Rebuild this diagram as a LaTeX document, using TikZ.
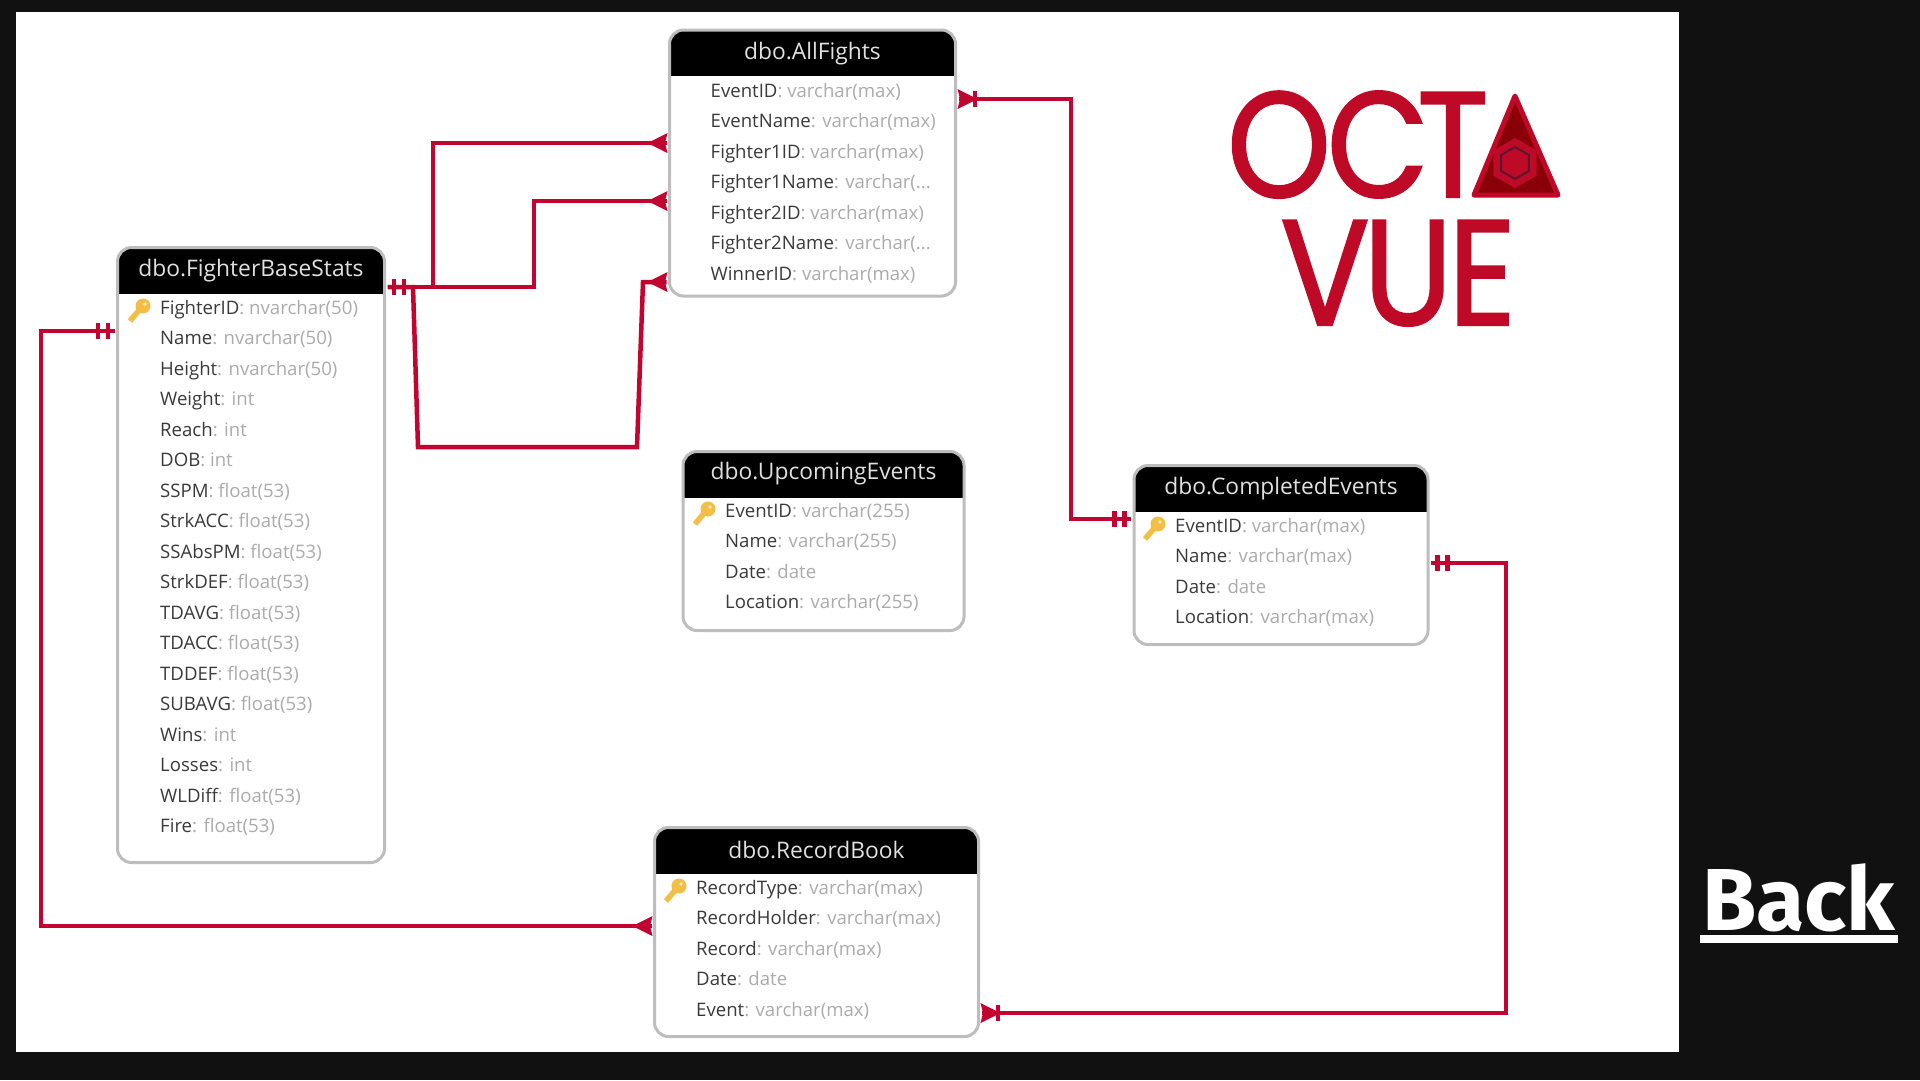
\documentclass[tikz,border=0pt]{standalone}
\usepackage{fontspec}
\setmainfont{Open Sans}
\newfontfamily\logofont[FakeStretch=.88,FakeBold=1.4]{Poppins}
\newfontfamily\backfont{Fira Sans}
\usetikzlibrary{shapes.geometric,decorations.markings}
\definecolor{pagedark}{HTML}{111111}
\definecolor{octared}{HTML}{BE0A26}
\definecolor{octadark}{HTML}{8A0008}
\definecolor{octaink}{HTML}{5A1530}
\definecolor{linkred}{HTML}{C20430}
\definecolor{keygold}{HTML}{F2BE45}
\definecolor{rowink}{HTML}{3A3A3A}
\definecolor{typeink}{HTML}{ABABAB}
\definecolor{boxline}{HTML}{BDBDBD}
\newcommand{\rowtype}[1]{\textcolor{typeink}{#1}}
\newcommand{\cuttype}{varchar(...}

\begin{document}
\begin{tikzpicture}[
        x=1pt,y=-1pt,
        erbody/.style={
          draw=boxline,
          fill=white,
          line width=3pt,
          rounded corners=14pt,
          inner sep=0pt,
          path picture={
            \fill[black,sharp corners] (path picture bounding box.north west) rectangle
              ([yshift=-46pt]path picture bounding box.north east);
          }
        },
        ertitle/.style={
          text=white!88!black,
          font=\fontsize{22.8}{26}\selectfont,
          inner sep=0pt
        },
        errow/.style={
          anchor=west,
          text=rowink,
          font=\fontsize{18.6}{22}\selectfont,
          text height=14pt,
          text depth=4pt,
          inner sep=0pt
        },
        relation/.style={
          draw=linkred,
          line width=4.5pt,
          line join=miter
        },
        barsstart/.style={
          postaction={decorate,decoration={markings,
            mark=at position 6.5pt with {\fill[linkred] (-2.2,-8) rectangle (2.2,8);},
            mark=at position 16.5pt with {\fill[linkred] (-2.2,-8) rectangle (2.2,8);}
          }}
        },
        crowend/.style={
          postaction={decorate,decoration={markings,
            mark=at position 1 with {\fill[linkred] (1,-10) -- (-19,0) -- (1,10) -- (-1.5,0) -- cycle;}
          }}
        },
        crowbarend/.style={
          crowend,
          postaction={decorate,decoration={markings,
            mark=at position -16.5pt with {\fill[linkred] (-2.2,-8) rectangle (2.2,8);}
          }}
        },
        logoletter/.style={
          anchor=base,
          text=octared,
          inner sep=0pt,
          font=\logofont\fontsize{150}{150}\selectfont
        },
        goldkey/.pic={
          \draw[keygold,line width=5.5pt] (-19,-1) -- (-30,12);
          \fill[keygold] (-17,-3) circle (7.5pt);
          \fill[white!70!keygold] (-15,-5) circle (1.8pt);
        }
      ]
        \useasboundingbox (0,0) rectangle (1920,1080);
        \fill[pagedark] (0,0) rectangle (1920,1080);
        \fill[white] (16,12) rectangle (1679,1052);

        % tables
        \node[erbody,minimum width=267pt,minimum height=615pt] (stats) at (251,555) {};
        \node[ertitle] (statsTitle) at (251,271) {dbo.FighterBaseStats};
        \foreach \i/\n/\t in {0/FighterID/nvarchar(50),1/Name/nvarchar(50),2/Height/nvarchar(50),
            3/Weight/int,4/Reach/int,5/DOB/int,6/SSPM/float(53),7/StrkACC/float(53),
            8/SSAbsPM/float(53),9/StrkDEF/float(53),10/TDAVG/float(53),11/TDACC/float(53),
            12/TDDEF/float(53),13/SUBAVG/float(53),14/Wins/int,15/Losses/int,
            16/WLDiff/float(53),17/Fire/float(53)}
          \node[errow] (stats\i) at (160,{309+\i*30.5}) {\n\rowtype{: \t}};
        \pic at (stats0.west) {goldkey};

        \node[erbody,minimum width=286pt,minimum height=266pt] (fights) at (812.5,163) {};
        \node[ertitle] (fightsTitle) at (812.5,54) {dbo.AllFights};
        \foreach \i/\n/\t in {0/EventID/varchar(max),1/EventName/varchar(max),2/Fighter1ID/varchar(max),
            3/Fighter1Name/\cuttype,4/Fighter2ID/varchar(max),5/Fighter2Name/\cuttype,
            6/WinnerID/varchar(max)}
          \node[errow] (fights\i) at (710.5,{92+\i*30.5}) {\n\rowtype{: \t}};

        \node[erbody,minimum width=281pt,minimum height=179pt] (upcoming) at (823.5,541) {};
        \node[ertitle] (upcomingTitle) at (823.5,474) {dbo.UpcomingEvents};
        \foreach \i/\n/\t in {0/EventID/varchar(255),1/Name/varchar(255),2/Date/date,3/Location/varchar(255)}
          \node[errow] (upcoming\i) at (725,{512+\i*30.5}) {\n\rowtype{: \t}};
        \pic at (upcoming0.west) {goldkey};

        \node[erbody,minimum width=294pt,minimum height=179pt] (completed) at (1281,555) {};
        \node[ertitle] (completedTitle) at (1281,489) {dbo.CompletedEvents};
        \foreach \i/\n/\t in {0/EventID/varchar(max),1/Name/varchar(max),2/Date/date,3/Location/varchar(max)}
          \node[errow] (completed\i) at (1175,{527+\i*30.5}) {\n\rowtype{: \t}};
        \pic at (completed0.west) {goldkey};

        \node[erbody,minimum width=324pt,minimum height=209pt] (records) at (816.5,932) {};
        \node[ertitle] (recordsTitle) at (816.5,850) {dbo.RecordBook};
        \foreach \i/\n/\t in {0/RecordType/varchar(max),1/RecordHolder/varchar(max),2/Record/varchar(max),
            3/Date/date,4/Event/varchar(max)}
          \node[errow] (records\i) at (696,{889+\i*30.5}) {\n\rowtype{: \t}};
        \pic at (records0.west) {goldkey};

        % ports on the table edges
        \coordinate (statsOut) at ([xshift=1.5pt]stats.east |- 0,287);
        \coordinate (statsIn) at ([xshift=-1.5pt]stats.west |- 0,331);
        \coordinate (fightsA) at ([xshift=-1.5pt]fights.west |- 0,143);
        \coordinate (fightsB) at ([xshift=-1.5pt]fights.west |- 0,201);
        \coordinate (fightsC) at ([xshift=-1.5pt]fights.west |- 0,282);
        \coordinate (fightsOut) at ([xshift=1.5pt]fights.east |- 0,99);
        \coordinate (completedIn) at ([xshift=-1.5pt]completed.west |- 0,519);
        \coordinate (completedOut) at ([xshift=1.5pt]completed.east |- 0,563);
        \coordinate (recordsIn) at ([xshift=-1.5pt]records.west |- 0,926);
        \coordinate (recordsOut) at ([xshift=1.5pt]records.east |- 0,1013);

        % relations
        \draw[relation,barsstart,crowend] (statsOut) -| (433,143) -- (fightsA);
        \draw[relation,crowend] (statsOut) -| (534,201) -- (fightsB);
        \draw[relation,crowend] (statsOut) -- (413,287) -- (418,447) -- (637,447) -- (643,282) -- (fightsC);
        \draw[relation,barsstart,crowbarend] (completedIn) -| (1071,99) -- (fightsOut);
        \draw[relation,barsstart,crowbarend] (completedOut) -| (1506,1013) -- (recordsOut);
        \draw[relation,barsstart,crowend] (statsIn) -| (41,926) -- (recordsIn);

        % logo
        \node[logoletter] (logoO) at (1279,197) {O};
        \node[logoletter] (logoC) at (1378,197) {C};
        \node[logoletter] (logoT) at (1453,197) {T};
        \node[logoletter] (logoV) at (1325,325) {V};
        \node[logoletter] (logoU) at (1408,325) {U};
        \node[logoletter] (logoE) at (1482,325) {E};
        \draw[octared,fill=octadark,line width=5pt,line join=round] (1515,96) -- (1558,195) -- (1474,195) -- cycle;
        \node[regular polygon,regular polygon sides=6,shape border rotate=30,fill=octared,minimum size=50pt,inner sep=0pt] (logoHex) at (1515,163) {};
        \node[regular polygon,regular polygon sides=6,shape border rotate=30,draw=octaink,line width=2pt,minimum size=32pt,inner sep=0pt] (logoCore) at (1515,163) {};

        % back link
        \node[anchor=base west,text=white,inner sep=0pt,font=\backfont\bfseries\fontsize{88}{88}\selectfont] (back) at (1702,930) {Back};
        \fill[white] (1699.5,935) rectangle (1898,943);
      \end{tikzpicture}
\end{document}
